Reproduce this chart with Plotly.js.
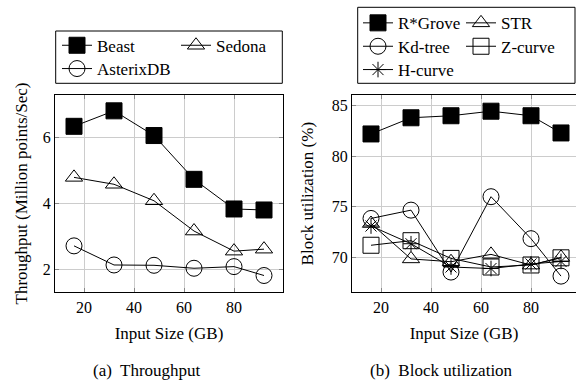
<!DOCTYPE html>
<html>
<head>
<meta charset="utf-8">
<script src="https://cdn.plot.ly/plotly-3.0.1.min.js"></script>
<style>html,body{margin:0;padding:0;background:#fff;} #chart{width:576px;height:384px;}</style>
</head>
<body>
<div id="chart"></div>
<script>
// ---- data ----
const inputSizes = [16, 32, 48, 64, 80, 92];
const xTicks = [20, 40, 60, 80];

const beast    = [6.34, 6.81, 6.06, 4.73, 3.83, 3.80];
const sedona   = [4.79, 4.58, 4.08, 3.16, 2.55, 2.61];
const asterix  = [2.71, 2.13, 2.12, 2.03, 2.08, 1.81];
const leftYTicks = [2, 4, 6];

const rgrove = [82.2, 83.8, 84.0, 84.45, 84.0, 82.3];
const kdtree = [73.85, 74.67, 68.55, 76.0, 71.85, 68.15];
const strIdx = [73.35, 69.85, 69.57, 70.3, 69.24, 70.0];
const zcurve = [71.2, 71.65, 69.9, 69.05, 69.25, 69.96];
const hcurve = [73.1, 71.35, 69.05, 68.9, 69.35, 69.6];
const rightYTicks = [70, 75, 80, 85];

const FONT = 'Liberation Serif';
const W = 576, H = 384;
const px = v => v / W;
const py = v => 1 - v / H;

function tr(x, y, name, symbol, size, xa, ya, legend) {
  return {
    x: x, y: y, name: name, type: 'scatter', mode: 'lines+markers',
    xaxis: xa, yaxis: ya, legend: legend, showlegend: true,
    line: {color: '#000', width: 1},
    marker: {symbol: symbol, size: size, color: '#000', line: {color: '#000', width: 1}}
  };
}

const data = [
  tr(inputSizes, beast, 'Beast', 'square', 16, 'x', 'y', 'legend'),
  tr(inputSizes, sedona, 'Sedona', 'triangle-up-open', 15, 'x', 'y', 'legend2'),
  tr(inputSizes, asterix, 'AsterixDB', 'circle-open', 16, 'x', 'y', 'legend3'),
  tr(inputSizes, rgrove, 'R*Grove', 'square', 16, 'x2', 'y2', 'legend4'),
  tr(inputSizes, strIdx, 'STR', 'triangle-up-open', 15, 'x2', 'y2', 'legend5'),
  tr(inputSizes, kdtree, 'Kd-tree', 'circle-open', 16, 'x2', 'y2', 'legend6'),
  tr(inputSizes, zcurve, 'Z-curve', 'square-open', 16, 'x2', 'y2', 'legend7'),
  tr(inputSizes, hcurve, 'H-curve', 'asterisk-open', 13, 'x2', 'y2', 'legend8')
];

const axisBase = {
  showline: true, linecolor: '#000', linewidth: 1,
  showgrid: true, gridcolor: '#cccccc', gridwidth: 1,
  zeroline: false, ticks: 'inside', ticklen: 4, tickcolor: '#888',
  tickfont: {family: FONT, size: 16, color: '#000'}
};

function leg(x, y) {
  return {
    visible: true,
    font: {family: FONT, size: 17, color: '#000'},
    bgcolor: 'rgba(0,0,0,0)', borderwidth: 0, xanchor: 'left', yanchor: 'middle',
    x: px(x), y: py(y), tracegroupgap: 0, itemclick: false
  };
}

const layout = {
  width: W, height: H,
  margin: {l: 0, r: 0, t: 0, b: 0},
  showlegend: true,
  paper_bgcolor: '#fff', plot_bgcolor: '#fff',
  font: {family: FONT, size: 17, color: '#000'},
  xaxis: Object.assign({}, axisBase, {
    domain: [px(55), px(283)], range: [8.4, 99.6], tickvals: xTicks, mirror: 'ticks', anchor: 'y',
    title: {text: 'Input Size (GB)', font: {family: FONT, size: 17}, standoff: 12}
  }),
  yaxis: Object.assign({}, axisBase, {
    domain: [py(292.3), py(94.7)], range: [1.3, 7.3], tickvals: leftYTicks, mirror: 'ticks', anchor: 'x',
    title: {text: 'Throughput (Million points/Sec)', font: {family: FONT, size: 17}, standoff: 10}
  }),
  xaxis2: Object.assign({}, axisBase, {
    domain: [px(352), 1], range: [8.4, 8.4 + (576 - 352) / 2.5], tickvals: xTicks, mirror: 'ticks', anchor: 'y2',
    title: {text: 'Input Size (GB)', font: {family: FONT, size: 17}, standoff: 12}
  }),
  yaxis2: Object.assign({}, axisBase, {
    domain: [py(292.3), py(95)], range: [66.55, 86.05], tickvals: rightYTicks, mirror: false, anchor: 'x2',
    title: {text: 'Block utilization (%)', font: {family: FONT, size: 17}, standoff: 13}
  }),
  legend:  leg(57, 45.7),
  legend2: leg(176, 45.7),
  legend3: leg(57, 69),
  legend4: leg(358, 23.3),
  legend5: leg(461, 23.3),
  legend6: leg(358, 46.7),
  legend7: leg(461, 46.7),
  legend8: leg(358, 70),
  shapes: [
    {type: 'rect', xref: 'paper', yref: 'paper', x0: px(55.7), x1: px(282.3), y0: py(83.3), y1: py(31),
     line: {color: '#000', width: 1}, fillcolor: 'rgba(0,0,0,0)', layer: 'above'},
    {type: 'rect', xref: 'paper', yref: 'paper', x0: px(357.7), x1: px(575), y0: py(83.3), y1: py(7.3),
     line: {color: '#000', width: 1}, fillcolor: 'rgba(0,0,0,0)', layer: 'above'}
  ],
  annotations: [
    {text: '(a)  Throughput', xref: 'paper', yref: 'paper', x: px(146.7), y: py(370), xanchor: 'center', yanchor: 'middle', showarrow: false, font: {family: FONT, size: 17}},
    {text: '(b)  Block utilization', xref: 'paper', yref: 'paper', x: px(441.7), y: py(370), xanchor: 'center', yanchor: 'middle', showarrow: false, font: {family: FONT, size: 17}}
  ]
};

Plotly.newPlot('chart', data, layout, {staticPlot: true, displayModeBar: false});
</script>
</body>
</html>
